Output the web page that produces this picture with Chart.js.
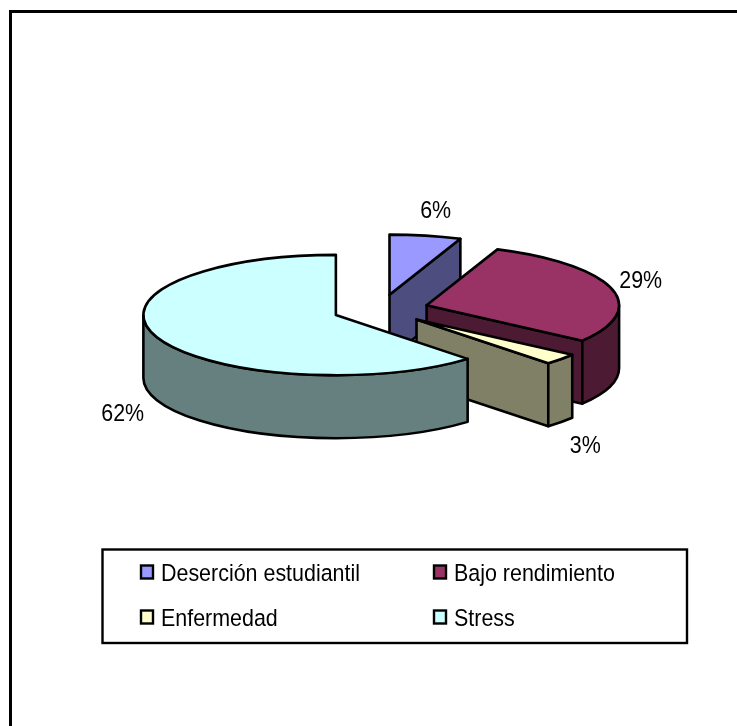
<!DOCTYPE html>
<html>
<head>
<meta charset="utf-8">
<title>Pie 3D</title>
<script src="https://cdn.jsdelivr.net/npm/chart.js@4/dist/chart.umd.min.js"></script>
<style>
    html, body { margin: 0; padding: 0; background: #fff; }
    canvas { display: block; }
</style>
</head>
<body>
<canvas id="chart" width="737" height="726"></canvas>
<script>
const categories = ["Deserción estudiantil", "Bajo rendimiento", "Enfermedad", "Stress"]
const percents = [6, 29, 3, 62]
const topColors = ["#9999ff", "#993366", "#ffffcc", "#ccffff"]
const sideColors = ["#4d4d80", "#4d1a33", "#808066", "#668080"]

// look of the tilted pie
const RADIUS = 192.5
const FLAT = 60 / 192
const DEPTH = 63
const EXPLODE = 48
const LABEL_RX = 225
const LABEL_RY = 87
const LABEL_NUDGE = [[4, 2], [-2, 0], [0, 3], [-4, 1]]
const LINE = 2.6
const FONT = '24.5px "Liberation Sans", Arial, sans-serif'
const TEXT_SQUEEZE = 0.875

// the reference text is tall and narrow
function squeezedText(ctx, text, x, y) {
    ctx.save()
    ctx.translate(x, y)
    ctx.scale(TEXT_SQUEEZE, 1)
    ctx.fillText(text, 0, 0)
    ctx.restore()
}

// slice centre after pulling it out along its middle angle
function sliceCentre(arc) {
    const mid = (arc.startAngle + arc.endAngle) / 2
    return {
        x: arc.x + Math.cos(mid) * EXPLODE,
        y: arc.y + Math.sin(mid) * EXPLODE * FLAT,
        mid: mid
    }
}

function paint(ctx, color) {
    ctx.fillStyle = color
    ctx.fill()
    ctx.strokeStyle = "#000"
    ctx.lineWidth = LINE
    ctx.lineJoin = "round"
    ctx.stroke()
}

// cut face of a slice, from the centre out to the rim at the given angle
function drawFace(ctx, c, r, angle, color) {
    const ex = c.x + Math.cos(angle) * r
    const ey = c.y + Math.sin(angle) * r * FLAT
    ctx.beginPath()
    ctx.moveTo(c.x, c.y)
    ctx.lineTo(ex, ey)
    ctx.lineTo(ex, ey + DEPTH)
    ctx.lineTo(c.x, c.y + DEPTH)
    ctx.closePath()
    paint(ctx, color)
}

function drawWalls(ctx, arc, color) {
    const c = sliceCentre(arc)
    const r = arc.outerRadius
    const ry = r * FLAT

    if (Math.cos(arc.endAngle) > 1e-6) drawFace(ctx, c, r, arc.endAngle, color)
    if (Math.cos(arc.startAngle) < -1e-6) drawFace(ctx, c, r, arc.startAngle, color)

    // only the front half of the rim can be seen
    const from = Math.max(arc.startAngle, 0)
    const to = Math.min(arc.endAngle, Math.PI)
    if (to > from) {
        ctx.beginPath()
        ctx.ellipse(c.x, c.y, r, ry, 0, from, to)
        ctx.ellipse(c.x, c.y + DEPTH, r, ry, 0, to, from, true)
        ctx.closePath()
        paint(ctx, color)
    }
}

function drawTop(ctx, arc) {
    const c = sliceCentre(arc)

    ctx.save()
    ctx.translate(c.x, c.y)
    ctx.scale(1, FLAT)
    ctx.translate(-arc.x, -arc.y)
    arc.draw(ctx)
    ctx.restore()

    ctx.beginPath()
    ctx.moveTo(c.x, c.y)
    ctx.ellipse(c.x, c.y, arc.outerRadius, arc.outerRadius * FLAT, 0, arc.startAngle, arc.endAngle)
    ctx.closePath()
    ctx.strokeStyle = "#000"
    ctx.lineWidth = LINE
    ctx.lineJoin = "round"
    ctx.stroke()
}

function drawLegend(ctx) {
    ctx.strokeStyle = "#000"
    ctx.lineWidth = 2.4
    ctx.strokeRect(102.5, 549.5, 584.5, 93.5)

    const colX = [141, 434]
    const rowY = [572, 617]
    ctx.font = FONT
    ctx.textAlign = "left"
    ctx.textBaseline = "middle"
    categories.forEach(function (name, i) {
        const x = colX[i % 2]
        const y = rowY[Math.floor(i / 2)]
        ctx.fillStyle = topColors[i]
        ctx.fillRect(x, y - 6.5, 12, 13)
        ctx.strokeRect(x, y - 6.5, 12, 13)
        ctx.fillStyle = "#000"
        squeezedText(ctx, name, x + 20, y + 2)
    })
}

const pie3d = {
    id: 'pie3d',
    beforeDraw(chart) {
        const ctx = chart.ctx
        ctx.save()
        ctx.fillStyle = "#fff"
        ctx.fillRect(0, 0, chart.width, chart.height)
        // frame runs off the right and bottom of the picture
        ctx.strokeStyle = "#000"
        ctx.lineWidth = 3
        ctx.beginPath()
        ctx.moveTo(10.5, chart.height)
        ctx.lineTo(10.5, 11.5)
        ctx.lineTo(chart.width, 11.5)
        ctx.stroke()
        ctx.restore()
    },
    beforeDatasetDraw(chart, args) {
        const ctx = chart.ctx
        const arcs = chart.getDatasetMeta(args.index).data
        ctx.save()
        arcs.forEach(function (arc, i) {
            drawWalls(ctx, arc, sideColors[i])
            drawTop(ctx, arc)
        })
        ctx.restore()
        return false
    },
    afterDraw(chart) {
        const ctx = chart.ctx
        const arcs = chart.getDatasetMeta(0).data
        ctx.save()
        ctx.font = FONT
        ctx.fillStyle = "#000"
        ctx.textAlign = "center"
        ctx.textBaseline = "middle"
        arcs.forEach(function (arc, i) {
            const c = sliceCentre(arc)
            const below = Math.sin(c.mid) > 0 ? DEPTH + 3 : 0
            squeezedText(ctx, percents[i] + "%",
                c.x + Math.cos(c.mid) * LABEL_RX + LABEL_NUDGE[i][0],
                c.y + Math.sin(c.mid) * LABEL_RY + below + LABEL_NUDGE[i][1])
        })
        drawLegend(ctx)
        ctx.restore()
    }
}

new Chart(document.getElementById('chart'), {
    type: 'pie',
    data: {
        labels: categories,
        datasets: [{
            data: percents,
            backgroundColor: topColors,
            borderWidth: 0,
            radius: RADIUS,
            clip: false
        }]
    },
    options: {
        responsive: false,
        animation: false,
        layout: { padding: { left: 24, bottom: 107 } },
        plugins: {
            legend: { display: false },
            tooltip: { enabled: false }
        }
    },
    plugins: [pie3d]
})
</script>
</body>
</html>
